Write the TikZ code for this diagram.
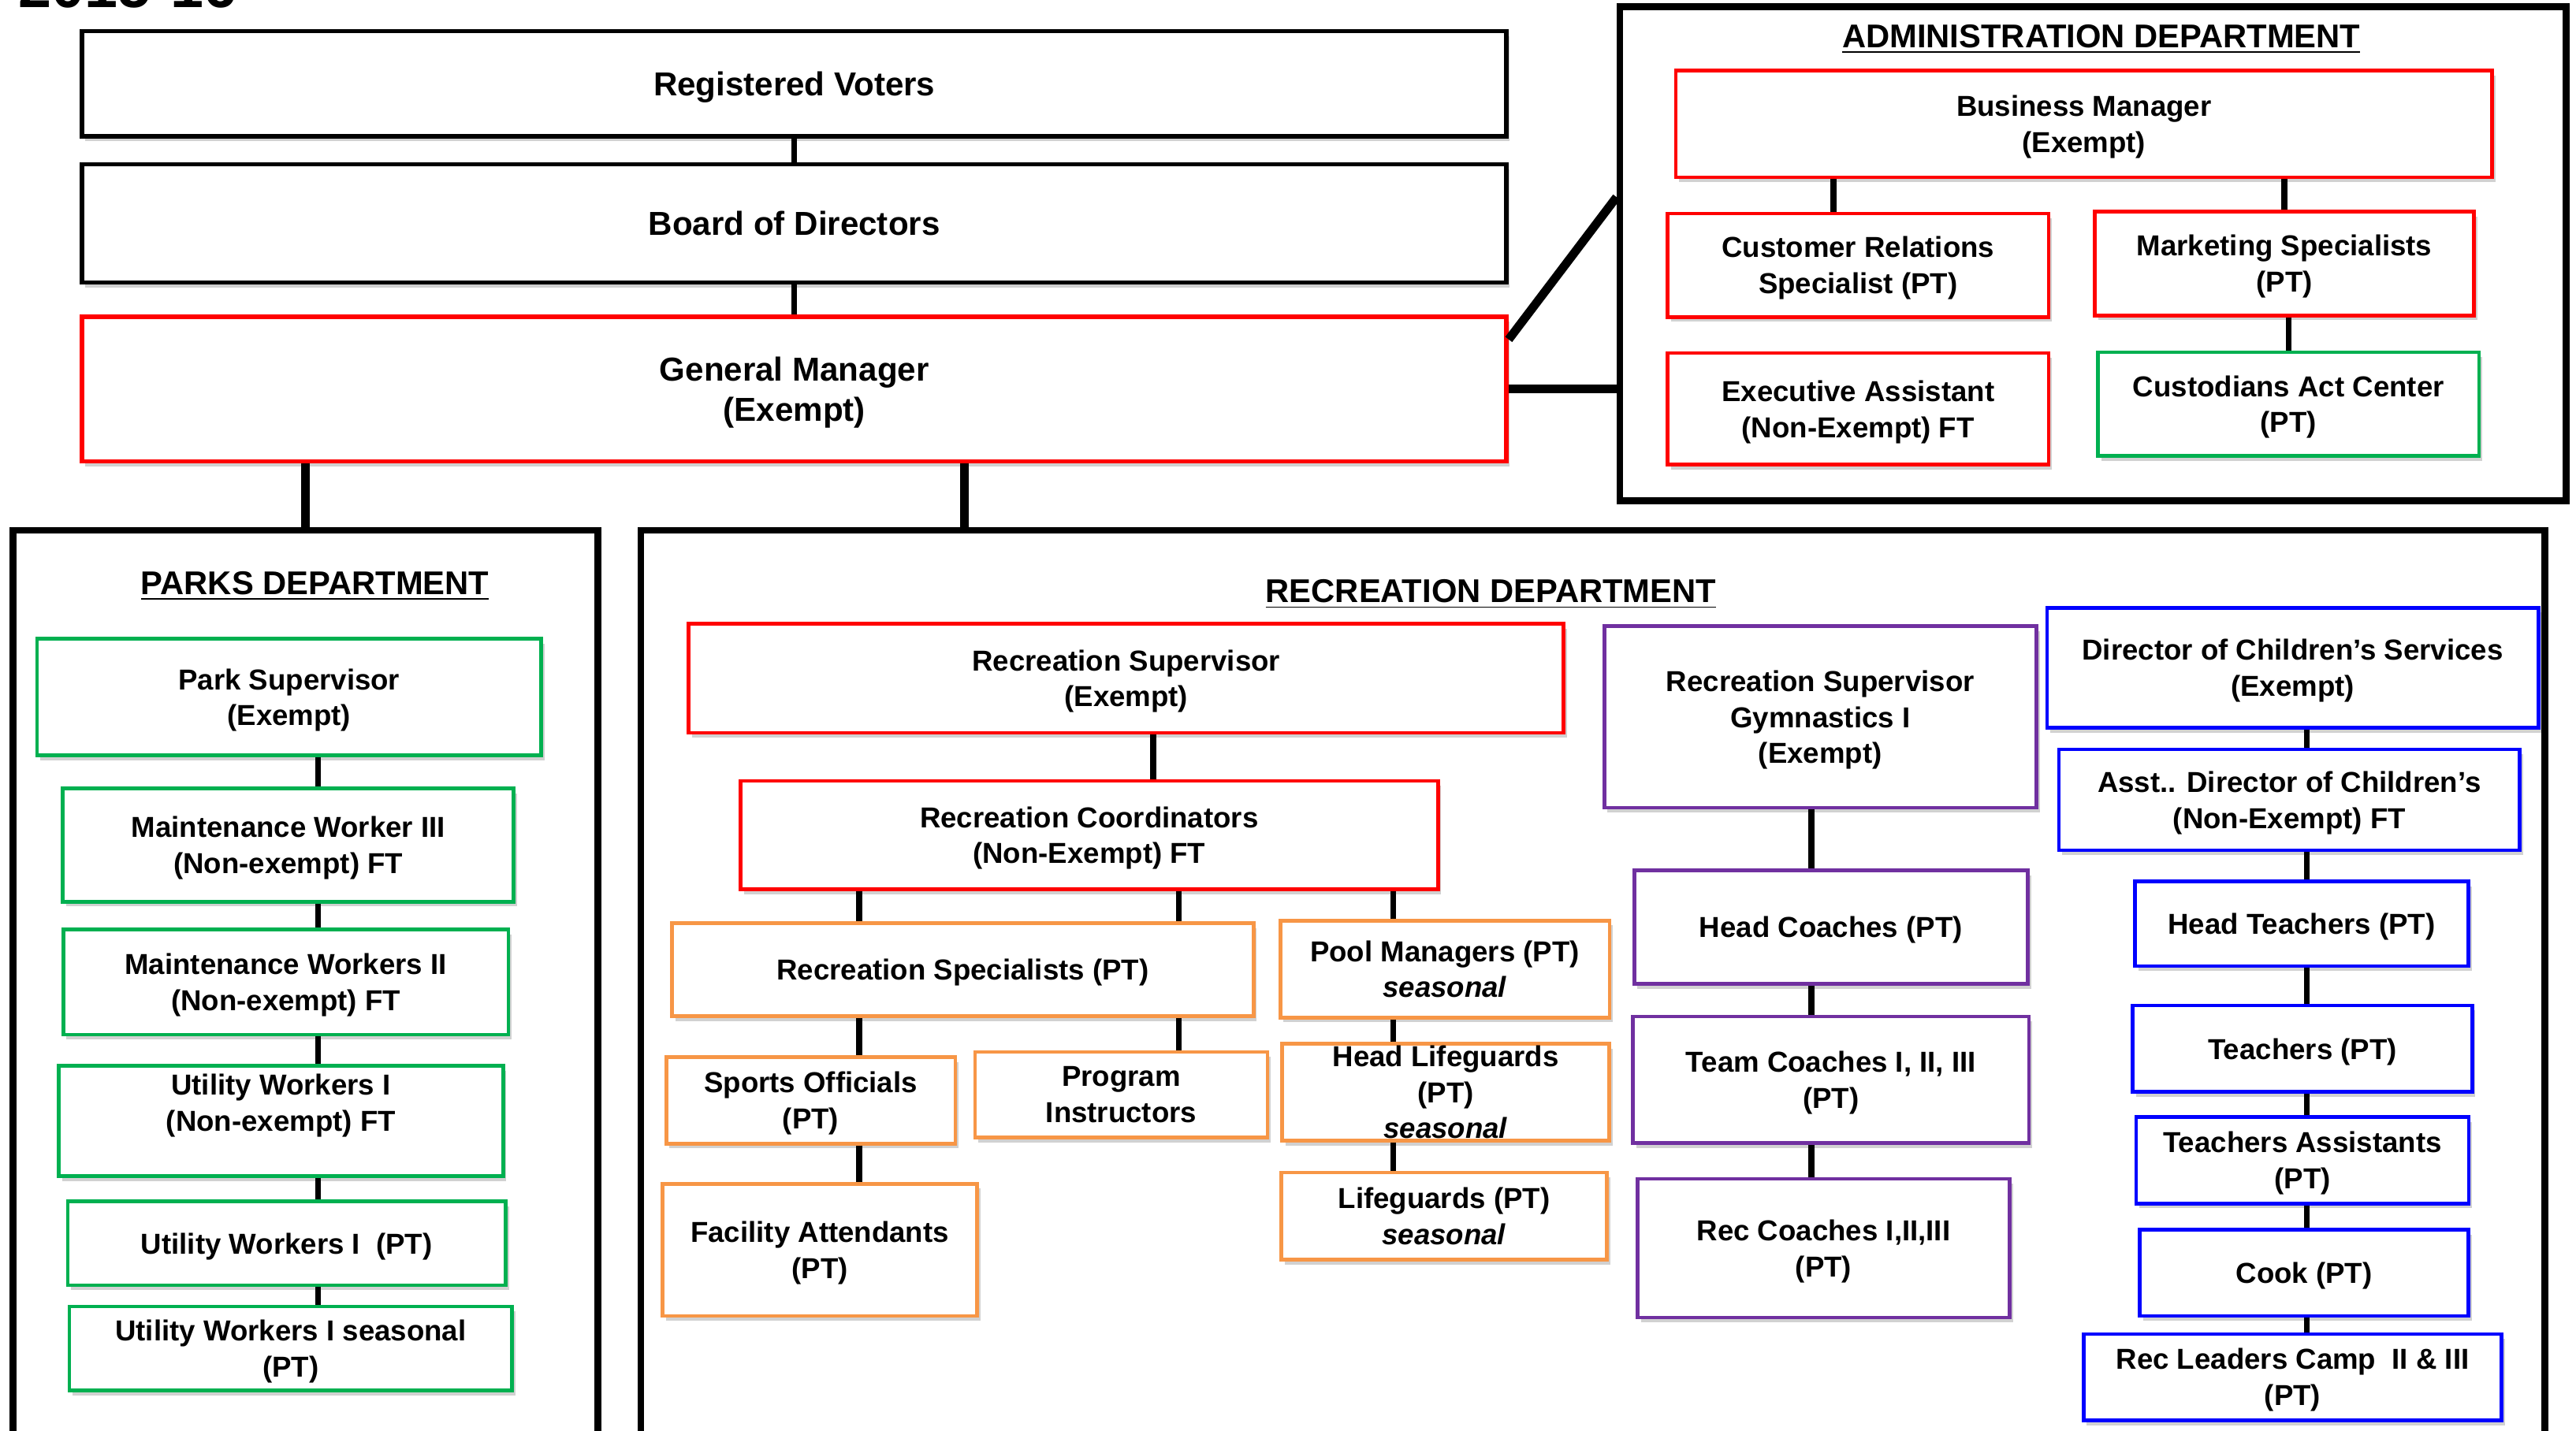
\documentclass[tikz,border=0pt]{standalone}
\usepackage{fontspec}
\setmainfont{Liberation Sans}
\usetikzlibrary{shadows}
\definecolor{chartred}{HTML}{FF0000}
\definecolor{chartgreen}{HTML}{00B050}
\definecolor{chartorange}{HTML}{F79646}
\definecolor{chartpurple}{HTML}{7030A0}
\definecolor{chartblue}{HTML}{0000FF}
\begin{document}
\begin{tikzpicture}[every node/.style={font=\bfseries\fontsize{10}{12.5}\selectfont},
      wh/.style 2 args={minimum width=#1cm, minimum height=#2cm},
      box/.style={draw, line width=1.3pt, align=center, inner sep=1pt, fill=white,
                  text depth=-1pt,
                  drop shadow={shadow xshift=0.04cm, shadow yshift=-0.06cm,
                               fill=black!40, opacity=0.45}},
      topbox/.style={box, draw=black, line width=1.5pt,
                     font=\bfseries\fontsize{11.5}{14}\selectfont},
      redbox/.style={box, draw=chartred},
      greenbox/.style={box, draw=chartgreen},
      orangebox/.style={box, draw=chartorange},
      purplebox/.style={box, draw=chartpurple},
      bluebox/.style={box, draw=chartblue},
      dept/.style={draw, line width=2.3pt, inner sep=0pt},
      depttitle/.style={anchor=base, inner sep=0pt,
                        font=\bfseries\fontsize{11.4}{13}\selectfont},
      link/.style={line width=2pt},
      mainlink/.style={line width=3pt}]
    \useasboundingbox (0,0) rectangle (31.36,-17.42);
    \clip (0,0) rectangle (31.36,-17.42);

    % heading, cut at the top edge
    \node[anchor=base west, inner sep=0pt, font=\bfseries\fontsize{20.6}{24}\selectfont]
      (year) at (0.22,-0.096) {2015-16};

    % department frames
    \node[dept, wh={11.52}{6.02}]  (admin) at (25.48,-3.09) {};
    \node[dept, wh={7.12}{11.34}]  (parks) at (3.72,-12.13) {};
    \node[dept, wh={23.18}{11.34}] (rec)   at (19.39,-12.13) {};
    \node[depttitle] (admintitle) at (25.58,-0.58) {\underline{ADMINISTRATION DEPARTMENT}};
    \node[depttitle] (parkstitle) at (3.835,-7.24) {\underline{PARKS DEPARTMENT}};
    \node[depttitle] (rectitle)   at (18.15,-7.34) {\underline{RECREATION DEPARTMENT}};

    % top of the chart
    \node[topbox, wh={17.34}{1.28}] (rv)  at (9.67,-1.02) {Registered Voters};
    \node[topbox, wh={17.34}{1.44}] (bod) at (9.67,-2.72) {Board of Directors};
    \node[topbox, draw=chartred, wh={17.34}{1.76}] (gm) at (9.67,-4.74) {General Manager\\(Exempt)};

    % administration
    \node[redbox, wh={9.94}{1.30}]  (bm)   at (25.37,-1.51) {Business Manager\\(Exempt)};
    \node[redbox, wh={4.64}{1.26}]  (crs)  at (22.62,-3.23) {Customer Relations\\Specialist (PT)};
    \node[redbox, wh={4.62}{1.26}]  (mkt)  at (27.81,-3.21) {Marketing Specialists\\(PT)};
    \node[redbox, wh={4.64}{1.36}]  (exa)  at (22.62,-4.98) {Executive Assistant\\(Non-Exempt) FT};
    \node[greenbox, wh={4.64}{1.26}] (cust) at (27.86,-4.92) {Custodians Act Center\\(PT)};

    % parks
    \node[greenbox, wh={6.14}{1.42}] (ps)    at (3.52,-8.49)  {Park Supervisor\\(Exempt)};
    \node[greenbox, wh={5.49}{1.38}] (mw3)   at (3.51,-10.29) {Maintenance Worker III\\(Non-exempt) FT};
    \node[greenbox, wh={5.42}{1.28}] (mw2)   at (3.48,-11.96) {Maintenance Workers II\\(Non-exempt) FT};
    \node[greenbox, wh={5.41}{1.34}] (uwft)  at (3.42,-13.65) {Utility Workers I\\(Non-exempt) FT\\~};
    \node[greenbox, wh={5.33}{1.02}] (uwpt)  at (3.49,-15.14) {Utility Workers I~~(PT)};
    \node[greenbox, wh={5.39}{1.02}] (uwsea) at (3.54,-16.42) {Utility Workers I seasonal\\(PT)};

    % recreation
    \node[redbox, wh={10.65}{1.33}]   (rsup)   at (13.71,-8.26)  {Recreation Supervisor\\(Exempt)};
    \node[redbox, wh={8.49}{1.32}]    (rcoord) at (13.26,-10.17) {Recreation Coordinators\\(Non-Exempt) FT};
    \node[orangebox, wh={7.08}{1.13}] (rspec)  at (11.72,-11.81) {Recreation Specialists (PT)};
    \node[orangebox, wh={4.01}{1.18}] (pool)   at (17.59,-11.80) {Pool Managers (PT)\\\textit{seasonal}};
    \node[orangebox, wh={3.52}{1.05}] (sports) at (9.87,-13.40)  {Sports Officials\\(PT)};
    \node[orangebox, wh={3.56}{1.04}] (prog)   at (13.65,-13.33) {Program\\Instructors};
    \node[orangebox, wh={3.98}{1.18},
          label={[align=center]center:{Head Lifeguards\\(PT)\\\textit{seasonal}}}] (headlg) at (17.60,-13.30) {};
    \node[orangebox, wh={3.96}{1.06}] (lg)     at (17.58,-14.81) {Lifeguards (PT)\\\textit{seasonal}};
    \node[orangebox, wh={3.83}{1.61}] (facil)  at (9.98,-15.22)  {Facility Attendants\\(PT)};

    \node[purplebox, wh={5.26}{2.21}] (gym) at (22.16,-8.73)  {Recreation Supervisor\\Gymnastics I\\(Exempt)};
    \node[purplebox, wh={4.79}{1.38}] (hc)  at (22.29,-11.29) {Head Coaches (PT)};
    \node[purplebox, wh={4.82}{1.54}] (tc)  at (22.29,-13.15) {Team Coaches I, II, III\\(PT)};
    \node[purplebox, wh={4.53}{1.69}] (rc)  at (22.20,-15.20) {Rec Coaches I,II,III\\(PT)};

    \node[bluebox, wh={5.98}{1.46}] (dcs)  at (27.91,-8.13)  {Director of Children’s Services\\(Exempt)};
    \node[bluebox, wh={5.61}{1.23}] (adc)  at (27.87,-9.74)  {Asst.. Director of Children’s\\(Non-Exempt) FT};
    \node[bluebox, wh={4.06}{1.03}] (ht)   at (28.02,-11.25) {Head Teachers (PT)};
    \node[bluebox, wh={4.13}{1.05}] (tch)  at (28.03,-12.77) {Teachers (PT)};
    \node[bluebox, wh={4.05}{1.05}] (ta)   at (28.03,-14.13) {Teachers Assistants\\(PT)};
    \node[bluebox, wh={4.00}{1.05}] (cook) at (28.05,-15.50) {Cook (PT)};
    \node[bluebox, wh={5.09}{1.05}] (rl)   at (27.91,-16.77) {Rec Leaders Camp~~II \& III\\(PT)};

    % where the vertical lines run
    \coordinate (rectap)  at (11.74,0);
    \coordinate (crstap)  at (22.32,0);
    \coordinate (pkline)  at (3.87,0);
    \coordinate (rsuptap) at (14.04,0);
    \coordinate (spinea)  at (10.46,0);
    \coordinate (spineb)  at (14.35,0);
    \coordinate (spinec)  at (16.96,0);
    \coordinate (gymline) at (22.05,0);
    \coordinate (kidline) at (28.08,0);

    % lines
    \draw[link] (rv.south) -- (bod.north);
    \draw[link] (bod.south) -- (gm.north);
    \draw[mainlink] (parks.north |- gm.south) -- (parks.north);
    \draw[mainlink] (gm.south -| rectap) -- (rec.north -| rectap);
    \draw[mainlink] (gm.east) -- (gm.east -| admin.west);
    \draw[mainlink] ([yshift=-0.3cm]gm.north east) -- ([yshift=0.69cm]admin.west);

    \draw[link] (bm.south -| crstap) -- (crs.north -| crstap);
    \draw[link] (bm.south -| mkt.north) -- (mkt.north);
    \draw[link] (mkt.south -| cust.north) -- (cust.north);

    \foreach \a/\b in {ps/mw3, mw3/mw2, mw2/uwft, uwft/uwpt, uwpt/uwsea}
      \draw[link] (\a.south -| pkline) -- (\b.north -| pkline);

    \draw[link] (rsup.south -| rsuptap) -- (rcoord.north -| rsuptap);
    \foreach \a/\b in {rcoord/rspec, rspec/sports, sports/facil}
      \draw[link] (\a.south -| spinea) -- (\b.north -| spinea);
    \foreach \a/\b in {rcoord/rspec, rspec/prog}
      \draw[link] (\a.south -| spineb) -- (\b.north -| spineb);
    \foreach \a/\b in {rcoord/pool, pool/headlg, headlg/lg}
      \draw[link] (\a.south -| spinec) -- (\b.north -| spinec);
    \foreach \a/\b in {gym/hc, hc/tc, tc/rc}
      \draw[link] (\a.south -| gymline) -- (\b.north -| gymline);
    \foreach \a/\b in {dcs/adc, adc/ht, ht/tch, tch/ta, ta/cook, cook/rl}
      \draw[link] (\a.south -| kidline) -- (\b.north -| kidline);
  \end{tikzpicture}
\end{document}
